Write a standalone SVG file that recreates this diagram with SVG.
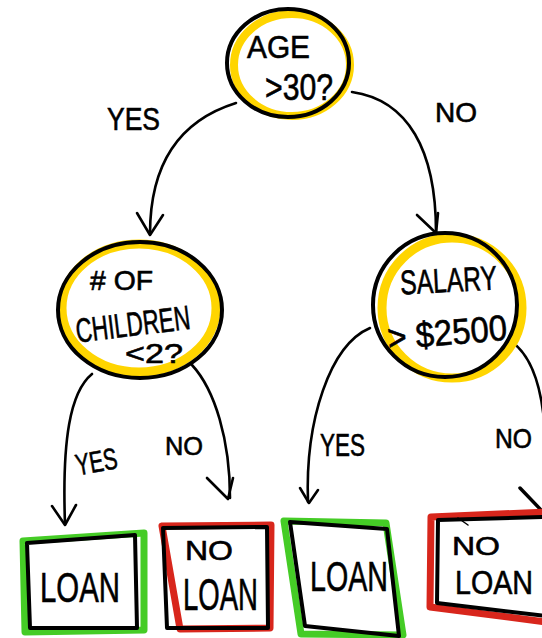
<svg xmlns="http://www.w3.org/2000/svg" width="542" height="638" viewBox="0 0 542 638">
<style>
.yel{fill:none;stroke:#FFD500;stroke-width:8}
.blk{fill:none;stroke:#000;stroke-width:4;stroke-linejoin:round;stroke-linecap:round}
.grn{fill:none;stroke:#45CC26;stroke-width:7;stroke-linejoin:round}
.red{fill:none;stroke:#D8261C;stroke-width:7;stroke-linejoin:round}
.con{fill:none;stroke:#000;stroke-width:2.6;stroke-linecap:round;stroke-linejoin:round}
.t{font-family:"Liberation Sans","DejaVu Sans",sans-serif;fill:#000;stroke:#000;stroke-width:0.6}
</style>
<rect width="542" height="638" fill="#fff"/>
<g id="connectors">
<path class="con" d="M236,103 C175,122 150,170 150,234"/>
<path class="con" d="M137,213 L150,235 L163,215"/>
<path class="con" d="M352,92 C408,100 436,150 436,232"/>
<path class="con" d="M417,215 L436,233 L438,213"/>
<path class="con" d="M92,374 C70,392 62,440 65,524"/>
<path class="con" d="M52,506 L65,525 L76,505"/>
<path class="con" d="M192,365 C215,390 230,440 230,498"/>
<path class="con" d="M207,478 L228,499 L233,478"/>
<path class="con" d="M370,328 C330,345 305,420 308,502"/>
<path class="con" d="M300,488 L309,503 L318,490"/>
<path class="con" d="M512,342 C530,355 540,380 544,420"/>
<path class="con" d="M520,488 L544,513" style="stroke-width:3.5"/>
<text class="t" x="107" y="130" font-size="32" textLength="53" lengthAdjust="spacingAndGlyphs">YES</text>
<text class="t" x="435" y="122" font-size="28" textLength="42" lengthAdjust="spacingAndGlyphs">NO</text>
<text class="t" x="75" y="472" font-size="30" textLength="42" lengthAdjust="spacingAndGlyphs" transform="rotate(-10 96 460)">YES</text>
<text class="t" x="165" y="455" font-size="26" textLength="38" lengthAdjust="spacingAndGlyphs">NO</text>
<text class="t" x="320" y="456" font-size="32" textLength="45" lengthAdjust="spacingAndGlyphs">YES</text>
<text class="t" x="495" y="448" font-size="28" textLength="37" lengthAdjust="spacingAndGlyphs">NO</text>
</g>
<g id="age">
<ellipse class="yel" cx="292" cy="65" rx="58" ry="51"/>
<ellipse class="blk" cx="288" cy="63" rx="61" ry="54"/>
<text class="t" x="247" y="58" font-size="32" textLength="63" lengthAdjust="spacingAndGlyphs">AGE</text>
<text class="t" x="265" y="100" font-size="36" textLength="68" lengthAdjust="spacingAndGlyphs">&gt;30?</text>
</g>
<g id="children">
<ellipse class="yel" cx="139" cy="308" rx="77" ry="64" style="stroke-width:9"/>
<ellipse class="blk" cx="140" cy="310" rx="82" ry="68"/>
<text class="t" x="90" y="290" font-size="28" textLength="63" lengthAdjust="spacingAndGlyphs"># OF</text>
<text class="t" x="75" y="336" font-size="34" textLength="115" lengthAdjust="spacingAndGlyphs" transform="rotate(-7 132 322)">CHILDREN</text>
<text class="t" x="125" y="363" font-size="28" textLength="58" lengthAdjust="spacingAndGlyphs">&lt;2?</text>
</g>
<g id="salary">
<ellipse class="yel" cx="452" cy="308" rx="70" ry="70" style="stroke-width:9"/>
<ellipse class="blk" cx="445" cy="305" rx="72" ry="72"/>
<text class="t" x="400" y="292" font-size="34" textLength="97" lengthAdjust="spacingAndGlyphs" transform="rotate(-3 448 280)">SALARY</text>
<text class="t" x="387" y="345" font-size="36" textLength="120" lengthAdjust="spacingAndGlyphs" transform="rotate(-5 447 330)">&gt; $2500</text>
</g>
<g id="loan1">
<polygon class="grn" points="23,541 144,533 144,630 25,632"/>
<polygon class="blk" points="27,543 135,535 137,628 30,628"/>
<text class="t" x="40" y="602" font-size="42" textLength="80" lengthAdjust="spacingAndGlyphs">LOAN</text>
</g>
<g id="noloan1">
<polygon class="red" points="162,526 271,525 270,628 180,629"/>
<polygon class="blk" points="163,528 267,527 268,628 167,628"/>
<text class="t" x="185" y="560" font-size="28" textLength="48" lengthAdjust="spacingAndGlyphs">NO</text>
<text class="t" x="183" y="610" font-size="44" textLength="75" lengthAdjust="spacingAndGlyphs">LOAN</text>
</g>
<g id="loan2">
<polygon class="grn" points="284,521 386,523 403,635 301,634"/>
<polygon class="blk" points="290,522 387,529 399,636 305,626"/>
<text class="t" x="310" y="591" font-size="42" textLength="78" lengthAdjust="spacingAndGlyphs">LOAN</text>
</g>
<g id="noloan2">
<polyline class="red" points="546,512 431,517 430,607 546,622"/>
<polyline class="blk" points="546,517 438,520 437,603 546,616"/>
<path class="con" d="M458,518 L468,525" style="stroke-width:1.5"/>
<text class="t" x="452" y="555" font-size="26" textLength="48" lengthAdjust="spacingAndGlyphs">NO</text>
<text class="t" x="455" y="594" font-size="34" textLength="78" lengthAdjust="spacingAndGlyphs">LOAN</text>
</g>
</svg>
